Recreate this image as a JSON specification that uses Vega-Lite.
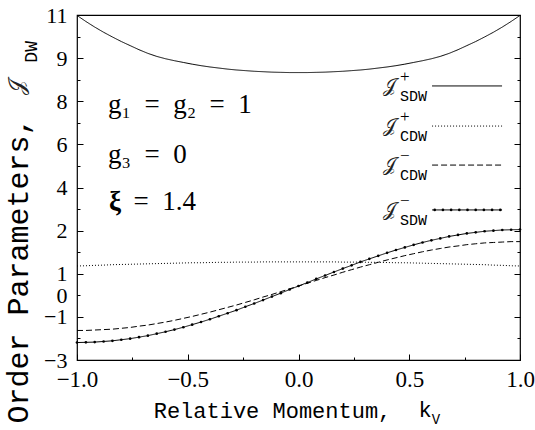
{
  "$schema": "https://vega.github.io/schema/vega-lite/v6.json",
  "width": 443,
  "height": 345,
  "autosize": {"type": "none"},
  "padding": {"left": 77, "top": 15, "right": 15, "bottom": 70},
  "background": "white",
  "config": {
    "view": {"stroke": "black", "strokeWidth": 1.2},
    "axis": {
      "grid": false, "domain": false,
      "labelFont": "Liberation Serif", "labelFontSize": 23, "labelColor": "black",
      "tickColor": "black", "tickWidth": 1,
      "titleFont": "Liberation Mono", "titleFontWeight": "normal", "titleColor": "black",
      "labelFlush": false, "labelOverlap": false
    }
  },
  "datasets": {
    "curves": [
      {"k": -1.00, "sdwp": 12.98, "cdwp": 1.36, "cdwm": -1.63, "sdwm": -2.19},
      {"k": -0.96, "sdwp": 12.70, "cdwp": 1.37, "cdwm": -1.63, "sdwm": -2.18},
      {"k": -0.92, "sdwp": 12.44, "cdwp": 1.39, "cdwm": -1.61, "sdwm": -2.17},
      {"k": -0.88, "sdwp": 12.20, "cdwp": 1.40, "cdwm": -1.59, "sdwm": -2.14},
      {"k": -0.84, "sdwp": 11.98, "cdwp": 1.42, "cdwm": -1.57, "sdwm": -2.11},
      {"k": -0.80, "sdwp": 11.77, "cdwp": 1.43, "cdwm": -1.53, "sdwm": -2.06},
      {"k": -0.76, "sdwp": 11.58, "cdwp": 1.44, "cdwm": -1.49, "sdwm": -2.01},
      {"k": -0.72, "sdwp": 11.39, "cdwp": 1.45, "cdwm": -1.43, "sdwm": -1.94},
      {"k": -0.68, "sdwp": 11.22, "cdwp": 1.46, "cdwm": -1.38, "sdwm": -1.87},
      {"k": -0.64, "sdwp": 11.08, "cdwp": 1.47, "cdwm": -1.31, "sdwm": -1.78},
      {"k": -0.60, "sdwp": 10.97, "cdwp": 1.48, "cdwm": -1.24, "sdwm": -1.69},
      {"k": -0.56, "sdwp": 10.88, "cdwp": 1.49, "cdwm": -1.16, "sdwm": -1.59},
      {"k": -0.52, "sdwp": 10.80, "cdwp": 1.50, "cdwm": -1.07, "sdwm": -1.48},
      {"k": -0.48, "sdwp": 10.72, "cdwp": 1.51, "cdwm": -0.98, "sdwm": -1.36},
      {"k": -0.44, "sdwp": 10.65, "cdwp": 1.51, "cdwm": -0.88, "sdwm": -1.24},
      {"k": -0.40, "sdwp": 10.59, "cdwp": 1.52, "cdwm": -0.78, "sdwm": -1.11},
      {"k": -0.36, "sdwp": 10.54, "cdwp": 1.53, "cdwm": -0.67, "sdwm": -0.97},
      {"k": -0.32, "sdwp": 10.49, "cdwp": 1.53, "cdwm": -0.56, "sdwm": -0.83},
      {"k": -0.28, "sdwp": 10.45, "cdwp": 1.54, "cdwm": -0.45, "sdwm": -0.69},
      {"k": -0.24, "sdwp": 10.42, "cdwp": 1.54, "cdwm": -0.33, "sdwm": -0.53},
      {"k": -0.20, "sdwp": 10.39, "cdwp": 1.54, "cdwm": -0.21, "sdwm": -0.38},
      {"k": -0.16, "sdwp": 10.37, "cdwp": 1.55, "cdwm": -0.08, "sdwm": -0.22},
      {"k": -0.12, "sdwp": 10.35, "cdwp": 1.55, "cdwm": 0.04, "sdwm": -0.06},
      {"k": -0.08, "sdwp": 10.34, "cdwp": 1.55, "cdwm": 0.17, "sdwm": 0.10},
      {"k": -0.04, "sdwp": 10.33, "cdwp": 1.55, "cdwm": 0.30, "sdwm": 0.27},
      {"k": 0.00, "sdwp": 10.33, "cdwp": 1.55, "cdwm": 0.43, "sdwm": 0.43},
      {"k": 0.04, "sdwp": 10.33, "cdwp": 1.55, "cdwm": 0.56, "sdwm": 0.59},
      {"k": 0.08, "sdwp": 10.34, "cdwp": 1.55, "cdwm": 0.69, "sdwm": 0.76},
      {"k": 0.12, "sdwp": 10.35, "cdwp": 1.55, "cdwm": 0.82, "sdwm": 0.92},
      {"k": 0.16, "sdwp": 10.37, "cdwp": 1.55, "cdwm": 0.94, "sdwm": 1.08},
      {"k": 0.20, "sdwp": 10.39, "cdwp": 1.54, "cdwm": 1.07, "sdwm": 1.24},
      {"k": 0.24, "sdwp": 10.42, "cdwp": 1.54, "cdwm": 1.19, "sdwm": 1.39},
      {"k": 0.28, "sdwp": 10.45, "cdwp": 1.54, "cdwm": 1.31, "sdwm": 1.55},
      {"k": 0.32, "sdwp": 10.49, "cdwp": 1.53, "cdwm": 1.42, "sdwm": 1.69},
      {"k": 0.36, "sdwp": 10.54, "cdwp": 1.53, "cdwm": 1.53, "sdwm": 1.83},
      {"k": 0.40, "sdwp": 10.59, "cdwp": 1.52, "cdwm": 1.64, "sdwm": 1.97},
      {"k": 0.44, "sdwp": 10.65, "cdwp": 1.51, "cdwm": 1.74, "sdwm": 2.10},
      {"k": 0.48, "sdwp": 10.72, "cdwp": 1.51, "cdwm": 1.84, "sdwm": 2.22},
      {"k": 0.52, "sdwp": 10.80, "cdwp": 1.50, "cdwm": 1.93, "sdwm": 2.34},
      {"k": 0.56, "sdwp": 10.88, "cdwp": 1.49, "cdwm": 2.02, "sdwm": 2.45},
      {"k": 0.60, "sdwp": 10.97, "cdwp": 1.48, "cdwm": 2.10, "sdwm": 2.55},
      {"k": 0.64, "sdwp": 11.08, "cdwp": 1.47, "cdwm": 2.17, "sdwm": 2.64},
      {"k": 0.68, "sdwp": 11.22, "cdwp": 1.46, "cdwm": 2.24, "sdwm": 2.73},
      {"k": 0.72, "sdwp": 11.39, "cdwp": 1.45, "cdwm": 2.29, "sdwm": 2.80},
      {"k": 0.76, "sdwp": 11.58, "cdwp": 1.44, "cdwm": 2.35, "sdwm": 2.87},
      {"k": 0.80, "sdwp": 11.77, "cdwp": 1.43, "cdwm": 2.39, "sdwm": 2.92},
      {"k": 0.84, "sdwp": 11.98, "cdwp": 1.42, "cdwm": 2.43, "sdwm": 2.97},
      {"k": 0.88, "sdwp": 12.20, "cdwp": 1.40, "cdwm": 2.45, "sdwm": 3.00},
      {"k": 0.92, "sdwp": 12.44, "cdwp": 1.39, "cdwm": 2.47, "sdwm": 3.03},
      {"k": 0.96, "sdwp": 12.70, "cdwp": 1.37, "cdwm": 2.49, "sdwm": 3.04},
      {"k": 1.00, "sdwp": 12.98, "cdwp": 1.36, "cdwm": 2.49, "sdwm": 3.05}
    ],
    "legend": [
      {"series": "sdwp", "v": 9.71, "sup": "+", "sub": "SDW"},
      {"series": "cdwp", "v": 7.85, "sup": "+", "sub": "CDW"},
      {"series": "cdwm", "v": 6.04, "sup": "−", "sub": "CDW"},
      {"series": "sdwm", "v": 3.96, "sup": "−", "sub": "SDW"}
    ],
    "legdots": [
      {"k": 0.615, "v": 3.96}, {"k": 0.652, "v": 3.96}, {"k": 0.689, "v": 3.96},
      {"k": 0.726, "v": 3.96}, {"k": 0.763, "v": 3.96}, {"k": 0.800, "v": 3.96},
      {"k": 0.837, "v": 3.96}, {"k": 0.874, "v": 3.96}, {"k": 0.911, "v": 3.96}
    ],
    "annot": [
      {"id": "note", "t": "g₁\u2002=\u2002g₂\u2002=\u20021", "k": -0.86, "v": 8.46},
      {"id": "note", "t": "g₃\u2002=\u20020", "k": -0.86, "v": 6.14},
      {"id": "xi", "t": "ξ", "k": -0.855, "v": 3.96},
      {"id": "note", "t": "=\u20021.4", "k": -0.745, "v": 3.96},
      {"id": "yJ", "t": "𝒥", "k": -1.271, "v": 9.66},
      {"id": "yDW", "t": "DW", "k": -1.203, "v": 11.29},
      {"id": "xk", "t": "k", "k": 0.571, "v": -5.64},
      {"id": "xV", "t": "V", "k": 0.621, "v": -5.95}
    ]
  },
  "resolve": {"axis": {"x": "independent", "y": "independent"}},
  "layer": [
    {
      "data": {"name": "curves"},
      "transform": [{"fold": ["sdwp", "cdwp", "cdwm", "sdwm"], "as": ["series", "val"]}],
      "mark": {"type": "line", "color": "black", "strokeWidth": 1},
      "encoding": {
        "x": {"field": "k", "type": "quantitative", "scale": {"domain": [-1, 1], "nice": false, "zero": false},
          "axis": {"orient": "bottom", "values": [-1, -0.5, 0, 0.5, 1], "format": ".1f", "ticks": false, "labelPadding": 8,
            "title": "Relative Momentum,", "titleFontSize": 22, "titleX": 195, "titleY": 57, "titleAlign": "center", "titleBaseline": "alphabetic"}},
        "y": {"field": "val", "type": "quantitative", "scale": {"domain": [-3, 13], "nice": false, "zero": false},
          "axis": {"orient": "left", "values": [-3, -1, 0, 1, 3, 5, 7, 9, 11, 13], "ticks": false, "labelPadding": 10, "labelFontSize": 22,
            "labelExpr": "datum.value==3?'2':datum.value==5?'4':datum.value==7?'6':datum.value==9?'8':datum.value==11?'9':datum.value==13?'11':datum.label",
            "title": "Order Parameters,", "titleFontSize": 30, "titleAngle": 270, "titleX": -59, "titleY": 255, "titleAlign": "center", "titleBaseline": "middle"}},
        "strokeDash": {"field": "series", "type": "nominal",
          "scale": {"domain": ["sdwp", "cdwp", "cdwm", "sdwm"], "range": [[1, 0], [1, 2], [6, 3], [1, 0]]}, "legend": null}
      }
    },
    {
      "data": {"name": "curves"},
      "mark": {"type": "circle", "color": "black", "size": 7, "opacity": 1},
      "encoding": {
        "x": {"field": "k", "type": "quantitative", "scale": {"domain": [-1, 1], "nice": false, "zero": false},
          "axis": {"orient": "bottom", "values": [-1, -0.75, -0.5, -0.25, 0, 0.25, 0.5, 0.75, 1], "tickSize": 3, "offset": -3, "labels": false, "title": null}},
        "y": {"field": "sdwm", "type": "quantitative", "scale": {"domain": [-3, 13], "nice": false, "zero": false},
          "axis": {"orient": "left", "values": [-3, -2, -1, 0, 1, 2, 3, 4, 5, 6, 7, 8, 9, 10, 11, 12, 13], "tickSize": 3, "offset": -3, "labels": false, "title": null}}
      }
    },
    {
      "data": {"name": "legend"},
      "mark": {"type": "rule", "color": "black", "strokeWidth": 1},
      "encoding": {
        "x": {"datum": 0.603, "type": "quantitative", "scale": {"domain": [-1, 1], "nice": false, "zero": false},
          "axis": {"orient": "bottom", "values": [-1, -0.5, 0, 0.5, 1], "tickSize": 6, "offset": -6, "labels": false, "title": null}},
        "x2": {"datum": 0.919},
        "y": {"field": "v", "type": "quantitative", "scale": {"domain": [-3, 13], "nice": false, "zero": false},
          "axis": {"orient": "left", "values": [-3, -1, 1, 3, 5, 7, 9, 11, 13], "tickSize": 6, "offset": -6, "labels": false, "title": null}},
        "strokeDash": {"field": "series", "type": "nominal",
          "scale": {"domain": ["sdwp", "cdwp", "cdwm", "sdwm"], "range": [[1, 0], [1, 2], [6, 3], [1, 0]]}, "legend": null}
      }
    },
    {
      "data": {"name": "legdots"},
      "mark": {"type": "circle", "color": "black", "size": 7, "opacity": 1},
      "encoding": {
        "x": {"field": "k", "type": "quantitative", "scale": {"domain": [-1, 1], "nice": false, "zero": false}, "axis": null},
        "y": {"field": "v", "type": "quantitative", "scale": {"domain": [-3, 13], "nice": false, "zero": false},
          "axis": {"orient": "right", "values": [-3, -2, -1, 0, 1, 2, 3, 4, 5, 6, 7, 8, 9, 10, 11, 12, 13], "tickSize": 3, "offset": -3, "labels": false, "title": null}}
      }
    },
    {
      "data": {"name": "legend"},
      "mark": {"type": "text", "text": "𝒥", "font": "DejaVu Serif", "fontSize": 19, "align": "center", "baseline": "middle", "dy": 0, "color": "#222"},
      "encoding": {
        "x": {"datum": 0.41, "type": "quantitative", "scale": {"domain": [-1, 1], "nice": false, "zero": false}, "axis": null},
        "y": {"field": "v", "type": "quantitative", "scale": {"domain": [-3, 13], "nice": false, "zero": false},
          "axis": {"orient": "right", "values": [-3, -1, 1, 3, 5, 7, 9, 11, 13], "tickSize": 6, "offset": -6, "labels": false, "title": null}}
      }
    },
    {
      "data": {"name": "legend"},
      "mark": {"type": "text", "font": "Liberation Serif", "fontSize": 17, "align": "center", "baseline": "middle", "dy": -9, "color": "black"},
      "encoding": {
        "text": {"field": "sup"},
        "x": {"datum": 0.48, "type": "quantitative", "scale": {"domain": [-1, 1], "nice": false, "zero": false}, "axis": null},
        "y": {"field": "v", "type": "quantitative", "scale": {"domain": [-3, 13], "nice": false, "zero": false}, "axis": null}
      }
    },
    {
      "data": {"name": "legend"},
      "mark": {"type": "text", "font": "Liberation Mono", "fontSize": 15, "align": "left", "baseline": "middle", "dy": 10, "color": "black"},
      "encoding": {
        "text": {"field": "sub"},
        "x": {"datum": 0.458, "type": "quantitative", "scale": {"domain": [-1, 1], "nice": false, "zero": false}, "axis": null},
        "y": {"field": "v", "type": "quantitative", "scale": {"domain": [-3, 13], "nice": false, "zero": false}, "axis": null}
      }
    },
    {
      "data": {"name": "annot"},
      "transform": [{"filter": "datum.id == 'note'"}],
      "mark": {"type": "text", "font": "Liberation Serif", "fontSize": 27, "align": "left", "baseline": "alphabetic", "color": "black"},
      "encoding": {
        "text": {"field": "t"},
        "x": {"field": "k", "type": "quantitative", "scale": {"domain": [-1, 1], "nice": false, "zero": false}, "axis": null},
        "y": {"field": "v", "type": "quantitative", "scale": {"domain": [-3, 13], "nice": false, "zero": false}, "axis": null}
      }
    },
    {
      "data": {"name": "annot"},
      "transform": [{"filter": "datum.id == 'xi'"}],
      "mark": {"type": "text", "font": "Liberation Serif", "fontSize": 27, "fontWeight": "bold", "align": "left", "baseline": "alphabetic", "color": "black"},
      "encoding": {
        "text": {"field": "t"},
        "x": {"field": "k", "type": "quantitative", "scale": {"domain": [-1, 1], "nice": false, "zero": false}, "axis": null},
        "y": {"field": "v", "type": "quantitative", "scale": {"domain": [-3, 13], "nice": false, "zero": false}, "axis": null}
      }
    },
    {
      "data": {"name": "annot"},
      "transform": [{"filter": "datum.id == 'yJ'"}],
      "mark": {"type": "text", "font": "DejaVu Serif", "fontSize": 22, "align": "center", "baseline": "middle", "angle": 270, "color": "#222"},
      "encoding": {
        "text": {"field": "t"},
        "x": {"field": "k", "type": "quantitative", "scale": {"domain": [-1, 1], "nice": false, "zero": false}, "axis": null},
        "y": {"field": "v", "type": "quantitative", "scale": {"domain": [-3, 13], "nice": false, "zero": false}, "axis": null}
      }
    },
    {
      "data": {"name": "annot"},
      "transform": [{"filter": "datum.id == 'yDW'"}],
      "mark": {"type": "text", "font": "Liberation Mono", "fontSize": 18, "align": "center", "baseline": "middle", "angle": 270, "color": "black"},
      "encoding": {
        "text": {"field": "t"},
        "x": {"field": "k", "type": "quantitative", "scale": {"domain": [-1, 1], "nice": false, "zero": false}, "axis": null},
        "y": {"field": "v", "type": "quantitative", "scale": {"domain": [-3, 13], "nice": false, "zero": false}, "axis": null}
      }
    },
    {
      "data": {"name": "annot"},
      "transform": [{"filter": "datum.id == 'xk'"}],
      "mark": {"type": "text", "font": "Liberation Mono", "fontSize": 22, "align": "center", "baseline": "alphabetic", "color": "black"},
      "encoding": {
        "text": {"field": "t"},
        "x": {"field": "k", "type": "quantitative", "scale": {"domain": [-1, 1], "nice": false, "zero": false}, "axis": null},
        "y": {"field": "v", "type": "quantitative", "scale": {"domain": [-3, 13], "nice": false, "zero": false}, "axis": null}
      }
    },
    {
      "data": {"name": "annot"},
      "transform": [{"filter": "datum.id == 'xV'"}],
      "mark": {"type": "text", "font": "Liberation Mono", "fontSize": 14, "align": "center", "baseline": "alphabetic", "color": "black"},
      "encoding": {
        "text": {"field": "t"},
        "x": {"field": "k", "type": "quantitative", "scale": {"domain": [-1, 1], "nice": false, "zero": false}, "axis": null},
        "y": {"field": "v", "type": "quantitative", "scale": {"domain": [-3, 13], "nice": false, "zero": false}, "axis": null}
      }
    }
  ]
}
